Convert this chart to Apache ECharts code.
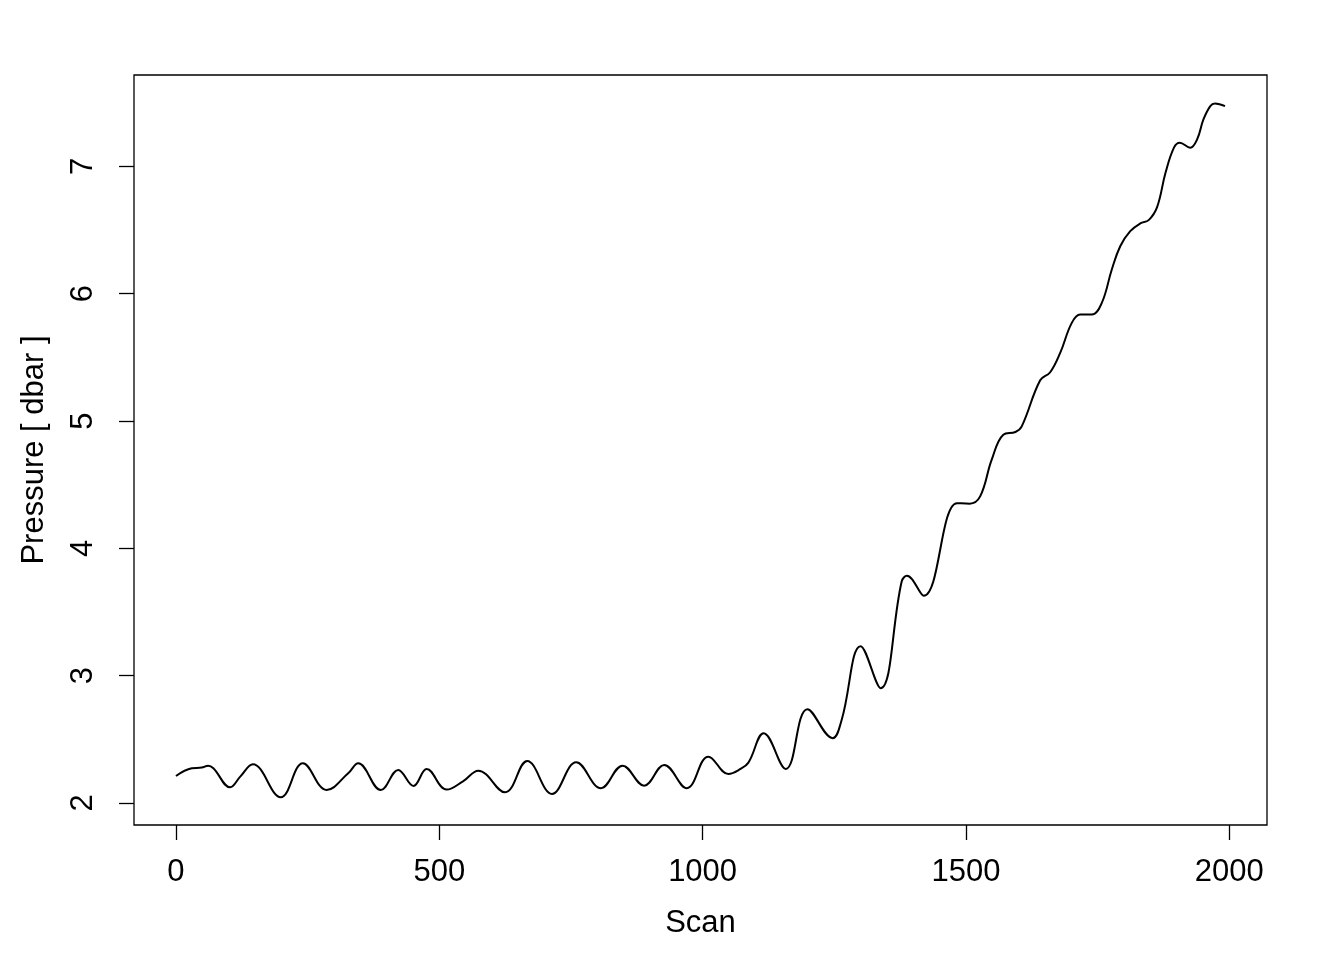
<!DOCTYPE html>
<html>
<head>
<meta charset="utf-8">
<script src="https://cdn.jsdelivr.net/npm/echarts@6/dist/echarts.min.js"></script>
<style>
  html, body { margin: 0; padding: 0; background: #fff; }
  #chart { width: 1344px; height: 960px; }
</style>
</head>
<body>
<div id="chart"></div>
<script>
// scan index and pressure
const scans = [0, 30, 49, 61, 71, 103, 122, 146, 199, 241, 286, 327, 346, 389, 422,
  451, 476, 514, 545, 574, 625, 667, 714, 760, 807, 848, 889, 927, 970, 1011, 1049, 1071, 1087, 1116, 1158,
  1199, 1247, 1264, 1300, 1338, 1378, 1388, 1420, 1483, 1507,
  1527, 1549, 1571, 1594, 1606, 1641, 1660, 1679, 1701, 1717, 1739, 1758, 1777, 1793, 1812, 1831, 1847, 1863,
  1879, 1895, 1906, 1926, 1939, 1951, 1964, 1973, 1992]
const pressure = [2.212, 2.273, 2.278, 2.293, 2.273, 2.123, 2.207, 2.304, 2.045, 2.312, 2.102,
  2.233, 2.312, 2.102, 2.259, 2.134, 2.267, 2.105, 2.17, 2.254, 2.084, 2.33, 2.071, 2.32, 2.116,
  2.293, 2.136, 2.299, 2.116, 2.364, 2.228, 2.265, 2.317, 2.548, 2.267, 2.737, 2.509, 2.652,
  3.232, 2.902, 3.74, 3.785, 3.627, 4.355, 4.351, 4.408, 4.697, 4.893,
  4.914, 4.958, 5.32, 5.383, 5.535, 5.771, 5.836, 5.836, 5.928, 6.19, 6.373, 6.491, 6.552, 6.578, 6.68, 6.95,
  7.147, 7.186, 7.147, 7.212, 7.369, 7.474, 7.495, 7.474]
const xTicks = [0, 500, 1000, 1500, 2000]
const yTicks = [2, 3, 4, 5, 6, 7]

const font = "'Liberation Sans', Arial, sans-serif"
const myChart = echarts.init(document.getElementById('chart'))

const option = {
  animation: false,
  textStyle: { fontFamily: font },
  grid: {
    left: 134,
    top: 75,
    width: 1133,
    height: 750,
    show: true,
    borderColor: '#000',
    borderWidth: 1.3,
    containLabel: false
  },
  xAxis: {
    type: 'value',
    min: -79.7,
    max: 2071.7,
    name: 'Scan',
    nameLocation: 'middle',
    nameGap: 83,
    nameTextStyle: { color: '#000', fontSize: 31, fontFamily: font },
    axisLine: { show: false, onZero: false },
    splitLine: { show: false },
    axisTick: { show: true, length: 15, customValues: xTicks, lineStyle: { color: '#000', width: 1.3 } },
    axisLabel: {
      customValues: xTicks,
      margin: 32,
      color: '#000',
      fontSize: 31,
      fontFamily: font,
      formatter: (v) => String(v)
    }
  },
  yAxis: {
    type: 'value',
    min: 1.827,
    max: 7.718,
    name: 'Pressure [ dbar ]',
    nameLocation: 'middle',
    nameGap: 84,
    nameRotate: 90,
    nameTextStyle: { color: '#000', fontSize: 31, fontFamily: font },
    axisLine: { show: false, onZero: false },
    splitLine: { show: false },
    axisTick: { show: true, length: 15, customValues: yTicks, lineStyle: { color: '#000', width: 1.3 } },
    axisLabel: {
      customValues: yTicks,
      rotate: 90,
      margin: 35,
      color: '#000',
      fontSize: 31,
      fontFamily: font,
      formatter: (v) => String(v)
    }
  },
  series: [
    {
      type: 'line',
      data: scans.map((s, i) => [s, pressure[i]]),
      showSymbol: false,
      smooth: 0.4,
      lineStyle: { color: '#000', width: 2 }
    }
  ]
}

myChart.setOption(option)
</script>
</body>
</html>
